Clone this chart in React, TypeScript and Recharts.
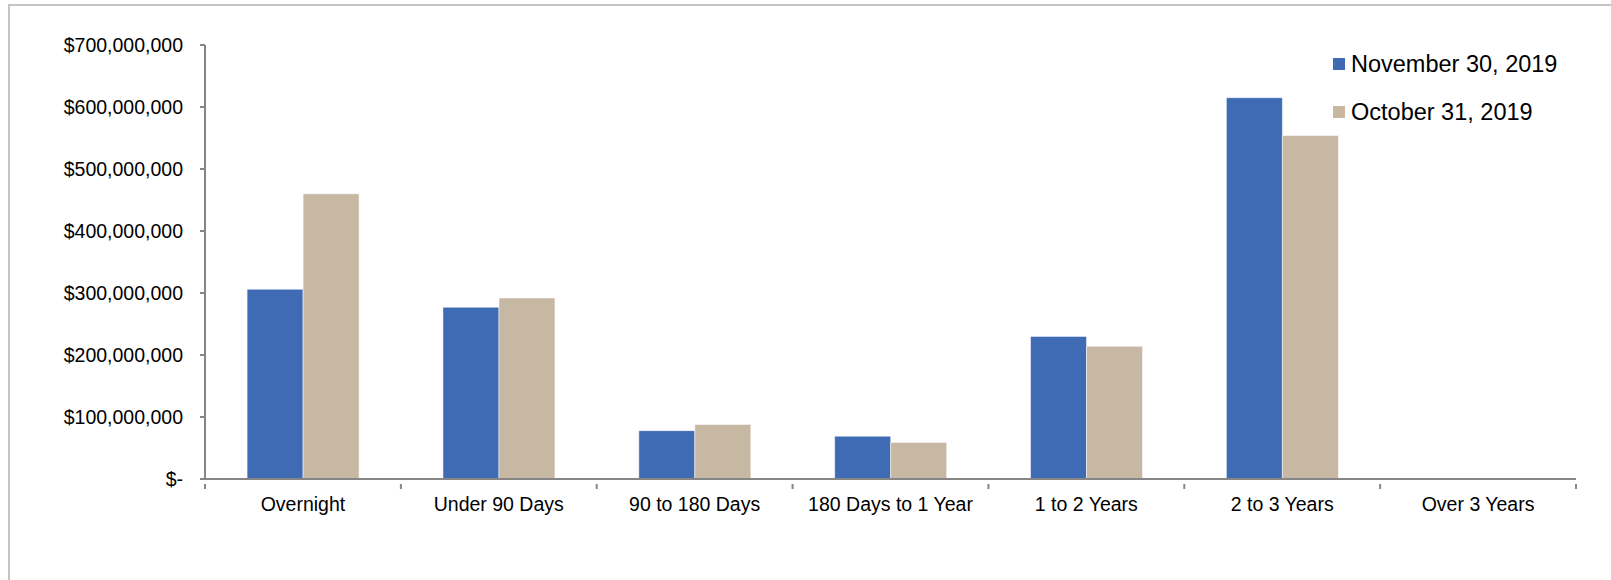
import React from "react";
import { BarChart, Bar, XAxis, YAxis } from "recharts";

const categories = [
  "Overnight",
  "Under 90 Days",
  "90 to 180 Days",
  "180 Days to 1 Year",
  "1 to 2 Years",
  "2 to 3 Years",
  "Over 3 Years",
];
const november = [306000000, 277000000, 78000000, 69000000, 230000000, 615000000, 0];
const october = [460000000, 292000000, 88000000, 59000000, 214000000, 554000000, 0];
const yTicks = [0, 100000000, 200000000, 300000000, 400000000, 500000000, 600000000, 700000000];
const seriesNames = ["November 30, 2019", "October 31, 2019"];
const colors = ["#3E6BB3", "#C7B8A3"];

const data = categories.map((c, i) => ({ name: c, nov: november[i], oct: october[i] }));

const FONT = "'Liberation Sans', Arial, Helvetica, sans-serif";

const fmt = (v: number) => (v === 0 ? "$-" : "$" + v.toLocaleString("en-US"));

const XTick = (props: any) => {
  const { x, y, payload, index, visibleTicksCount } = props;
  const half = payload && payload.offset ? payload.offset : 0;
  const isLast = index === (visibleTicksCount ?? categories.length) - 1;
  return (
    <g>
      <line x1={x - half} x2={x - half} y1={y - 13} y2={y - 13 + 5} stroke="#868686" strokeWidth={2} />
      {isLast && (
        <line x1={x + half} x2={x + half} y1={y - 13} y2={y - 13 + 5} stroke="#868686" strokeWidth={2} />
      )}
      <text x={x} y={y} dy="0.71em" textAnchor="middle" fontSize={19.5} fontFamily={FONT} fill="#000">
        {payload.value}
      </text>
    </g>
  );
};

const LegendBox = () => (
  <div style={{ position: "absolute", left: 1333, top: 40, fontFamily: FONT, fontSize: 23.5, color: "#000" }}>
    {seriesNames.map((n, i) => (
      <div key={n} style={{ display: "flex", alignItems: "center", height: 48, whiteSpace: "nowrap" }}>
        <span style={{ display: "inline-block", width: 12, height: 12, background: colors[i], marginRight: 6 }} />
        <span>{n}</span>
      </div>
    ))}
  </div>
);

export default function App() {
  return (
    <div style={{ position: "absolute", left: 0, top: 0, width: 1611, height: 580, background: "#fff" }}>
      <div
        style={{
          position: "absolute",
          left: 8,
          top: 4,
          width: 1611 - 8,
          height: 580 - 4,
          borderTop: "2px solid #c4c4c4",
          borderLeft: "2px solid #c4c4c4",
          boxSizing: "border-box",
        }}
      />
      <div style={{ position: "absolute", left: 0, top: 0 }}>
        <BarChart
          width={1611}
          height={580}
          data={data}
          margin={{ top: 45, right: 35, left: 0, bottom: 0 }}
          barCategoryGap="21.5%"
          barGap={0}
        >
          <XAxis
            dataKey="name"
            axisLine={{ stroke: "#868686", strokeWidth: 2 }}
            tickLine={false}
            tickSize={5}
            tickMargin={13}
            tick={<XTick />}
            interval={0}
            height={101}
          />
          <YAxis
            width={205}
            domain={[0, 700000000]}
            ticks={yTicks}
            tickFormatter={fmt}
            axisLine={{ stroke: "#868686", strokeWidth: 2 }}
            tickLine={{ stroke: "#868686", strokeWidth: 2 }}
            tickSize={5}
            tickMargin={17}
            tick={{ fontSize: 19.5, fontFamily: FONT, fill: "#000" }}
            interval={0}
          />
          <Bar dataKey="nov" name={seriesNames[0]} fill={colors[0]} stroke="#ffffff" strokeOpacity={0.5} strokeWidth={1} isAnimationActive={false} />
          <Bar dataKey="oct" name={seriesNames[1]} fill={colors[1]} stroke="#ffffff" strokeOpacity={0.5} strokeWidth={1} isAnimationActive={false} />
        </BarChart>
      </div>
      <LegendBox />
    </div>
  );
}
